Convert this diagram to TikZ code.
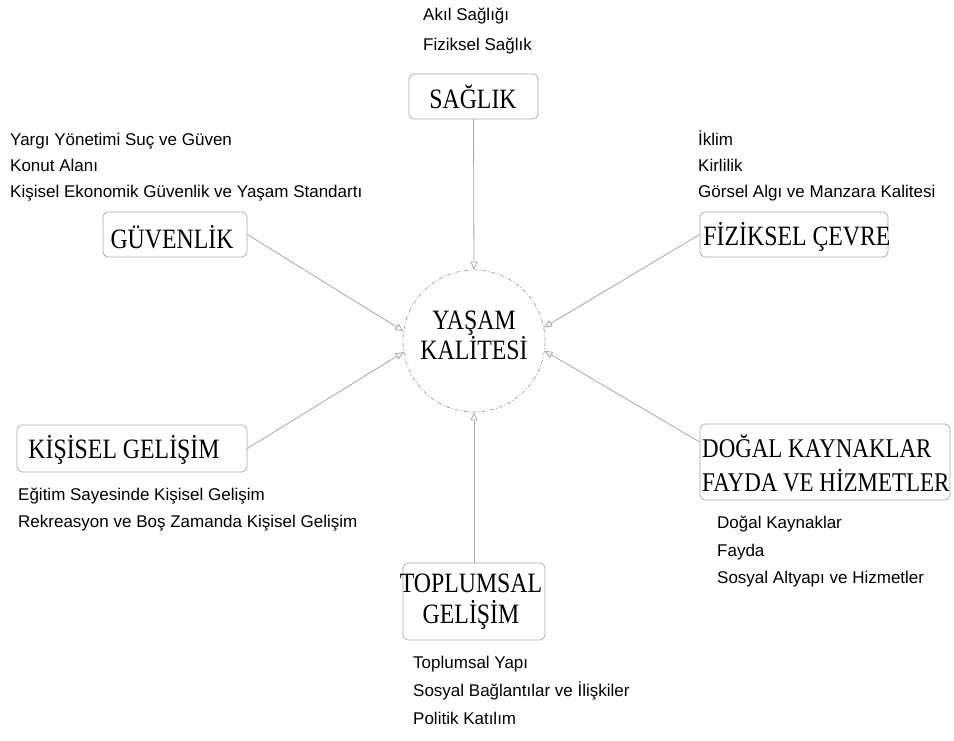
\documentclass[tikz,border=0pt]{standalone}
\usepackage{fontspec}
\setmainfont{Liberation Serif}
\newfontfamily\headfont[FakeStretch=0.85]{Liberation Serif}
\newfontfamily\lblfont{Liberation Sans}
\usetikzlibrary{arrows.meta}
\begin{document}
\begin{tikzpicture}[x=1pt,y=-1pt,
  box/.style={draw=gray!70, line width=0.7pt, rounded corners=5pt, inner sep=0pt},
  head/.style={font=\headfont\fontsize{28}{30}\selectfont, inner sep=0pt, align=center},
  lbl/.style={font=\lblfont\fontsize{17}{20}\selectfont, inner sep=0pt, anchor=base west},
  arr/.style={draw=gray!70, line width=0.8pt, -{Triangle[open,length=8pt,width=7pt]}},
  ring/.style={draw=gray!70, line width=0.8pt, dash pattern=on 4pt off 2pt on 1pt off 2pt,
    circle, minimum size=142pt, inner sep=0pt}]
\useasboundingbox (0,0) rectangle (954,740);

% central circle
\node[ring] (yk) at (474,341) {};
\node[head] (yktext) at (474,335) {YAŞAM\\KALİTESİ};

% category boxes
\node[box, minimum width=129pt, minimum height=45pt] (saglik) at (473.5,96.5) {};
\node[box, minimum width=144pt, minimum height=45pt] (guvenlik) at (175,234.5) {};
\node[box, minimum width=188pt, minimum height=45pt] (fiziksel) at (794,234.5) {};
\node[box, minimum width=230pt, minimum height=47pt] (kisisel) at (132,448.5) {};
\node[box, minimum width=250pt, minimum height=76pt] (dogal) at (825,462) {};
\node[box, minimum width=142pt, minimum height=77pt] (toplumsal) at (474,601.5) {};

% box titles
\node[head] (saglikt) at (473,97) {SAĞLIK};
\node[head] (guvenlikt) at (172,237) {GÜVENLİK};
\node[head] (fizikselt) at (797,237) {FİZİKSEL ÇEVRE};
\node[head] (kisiselt) at (124,450) {KİŞİSEL GELİŞİM};
\node[head, align=left, anchor=west, font=\headfont\fontsize{27}{34}\selectfont] (dogalt) at (702,463)
  {DOĞAL KAYNAKLAR\\FAYDA VE HİZMETLER};
\node[head, font=\headfont\fontsize{28}{31}\selectfont] (toplumsalt) at (471,602) {TOPLUMSAL\\GELİŞİM};

% connectors
\draw[arr] (saglik.south) -- (yk.north);
\draw[arr] (toplumsal.north) -- (yk.south);
\draw[arr] (guvenlik.east) -- (yk.172);
\draw[arr] (kisisel.east) -- (yk.189);
\draw[arr] (fiziksel.west) -- (yk.11);
\draw[arr] ([yshift=20pt]dogal.west) -- (yk.-8);

% sub-topic labels
\node[lbl] (s1) at (423,20) {Akıl Sağlığı};
\node[lbl] (s2) at (423,50) {Fiziksel Sağlık};

\node[lbl] (g1) at (10,145) {Yargı Yönetimi Suç ve Güven};
\node[lbl] (g2) at (10,171) {Konut Alanı};
\node[lbl] (g3) at (10,197) {Kişisel Ekonomik Güvenlik ve Yaşam Standartı};

\node[lbl] (f1) at (698,145) {İklim};
\node[lbl] (f2) at (698,171) {Kirlilik};
\node[lbl] (f3) at (698,197) {Görsel Algı ve Manzara Kalitesi};

\node[lbl] (k1) at (18,500) {Eğitim Sayesinde Kişisel Gelişim};
\node[lbl] (k2) at (18,527) {Rekreasyon ve Boş Zamanda Kişisel Gelişim};

\node[lbl] (d1) at (717,528) {Doğal Kaynaklar};
\node[lbl] (d2) at (717,556) {Fayda};
\node[lbl] (d3) at (717,583) {Sosyal Altyapı ve Hizmetler};

\node[lbl] (t1) at (413,668) {Toplumsal Yapı};
\node[lbl] (t2) at (413,696) {Sosyal Bağlantılar ve İlişkiler};
\node[lbl] (t3) at (413,724) {Politik Katılım};
\end{tikzpicture}
\end{document}
